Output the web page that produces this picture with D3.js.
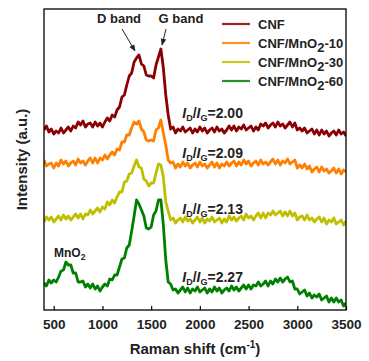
<!DOCTYPE html>
<html><head><meta charset="utf-8">
<script src="https://cdn.jsdelivr.net/npm/d3@7"></script>
<style>
html,body{margin:0;padding:0;background:#fff;}
svg{display:block;font-family:"Liberation Sans",Arial,sans-serif;font-weight:bold;}
</style></head>
<body>
<svg id="chart" width="369" height="361"></svg>
<script>
// Raman shift sample positions (cm-1)
const shifts = [400,425,450,475,500,525,550,575,600,625,650,675,700,725,750,775,800,825,850,875,900,925,950,975,1000,
1025,1050,1075,1100,1125,1150,1175,1200,1225,1250,1275,1300,1325,1350,1375,1400,1425,1450,1475,1500,1525,1550,1575,1600,1625,
1650,1675,1700,1725,1750,1775,1800,1825,1850,1875,1900,1925,1950,1975,2000,2025,2050,2075,2100,2125,2150,2175,2200,2225,2250,
2275,2300,2325,2350,2375,2400,2425,2450,2475,2500,2525,2550,2575,2600,2625,2650,2675,2700,2725,2750,2775,2800,2825,2850,2875,
2900,2925,2950,2975,3000,3025,3050,3075,3100,3125,3150,3175,3200,3225,3250,3275,3300,3325,3350,3375,3400,3425,3450,3475,3500];

// Intensities (a.u., with vertical offsets as plotted)
const cnf = [180,184,178,181,176,179,177,182,177,180,183,179,184,182,188,185,189,183,186,187,183,188,184,187,183,
188,192,189,195,193,200,203,213,215,225,234,237,248,252,255,246,244,235,234,234,232,245,253,261,242,
215,195,181,183,177,181,179,183,178,180,182,177,181,178,183,179,182,177,180,182,178,183,179,181,177,
180,184,180,184,179,183,181,185,180,182,184,179,183,180,186,184,187,182,185,187,183,188,184,186,182,
185,188,183,187,180,182,179,182,177,179,181,176,180,175,180,176,179,174,177,179,175,180,176,178,174];

const mno10 = [150,144,146,147,142,147,144,150,146,149,144,147,149,145,151,147,149,145,149,152,147,152,147,152,150,
155,151,155,158,155,161,160,168,168,175,175,182,188,186,189,181,178,170,169,170,169,180,182,190,177,
165,150,147,148,142,146,143,148,144,147,142,145,147,143,148,144,146,142,145,148,143,147,142,146,144,
148,144,147,149,144,148,145,150,146,149,144,147,149,145,150,146,148,145,148,151,146,150,145,149,147,
151,146,148,150,142,145,142,146,141,144,138,141,143,138,143,139,141,137,139,142,137,141,136,140,138];

const mno30 = [88,93,90,93,88,91,94,90,95,91,94,90,93,96,92,96,91,96,95,100,96,99,102,98,103,
101,108,105,110,107,113,118,118,128,129,136,137,144,150,143,142,131,129,124,127,127,137,146,145,133,
108,99,90,92,87,90,92,88,93,89,91,87,90,93,88,92,87,91,89,93,88,90,92,87,91,
88,94,90,93,89,92,94,90,96,92,94,90,94,97,92,97,92,97,95,99,95,97,99,94,98,
94,99,94,97,90,93,94,90,95,90,92,88,91,93,88,92,86,90,88,92,86,88,90,85,89];

const mno60 = [27,24,30,27,30,28,33,39,40,48,45,45,37,37,28,28,29,23,26,22,26,21,24,19,23,
26,24,31,30,35,35,43,51,52,62,65,79,94,110,106,100,94,82,81,83,95,99,110,110,85,
50,28,26,20,21,17,20,23,18,22,17,21,19,23,18,20,22,17,21,18,23,19,22,17,20,
22,19,24,20,23,19,22,25,21,25,21,25,24,28,24,26,29,24,29,26,31,28,32,28,31,
33,28,29,21,21,16,18,20,14,17,12,15,13,16,10,12,14,8,12,8,12,8,10,4,7];

const seriesNames = ["CNF","CNF/MnO2-10","CNF/MnO2-30","CNF/MnO2-60"];
const seriesColors = ["#8B0000","#FF8000","#BFBF00","#008000"];
const ratioLabels = ["2.00","2.09","2.13","2.27"];
const ratioAnchors = [[1820,192],[1820,152],[1820,96],[1820,28]];
const xTicks = [500,1000,1500,2000,2500,3000,3500];

const svg = d3.select("#chart");
const m = {l:44, r:23, t:9, b:51};
const W = 369, H = 361;
const x = d3.scaleLinear().domain([400,3500]).range([m.l, W-m.r]);
const y = d3.scaleLinear().domain([0,301]).range([H-m.b, m.t]);

const allSeries = [cnf, mno10, mno30, mno60];

const line = d3.line().x((d,i)=>x(shifts[i])).y(d=>y(d));

svg.append("clipPath").attr("id","clip").append("rect")
  .attr("x",m.l).attr("y",m.t).attr("width",W-m.r-m.l).attr("height",H-m.b-m.t);

svg.append("g").attr("clip-path","url(#clip)")
  .selectAll("path").data(allSeries).join("path")
  .attr("d",d=>line(d)).attr("fill","none")
  .attr("stroke",(d,i)=>seriesColors[i]).attr("stroke-width",2.8)
  .attr("stroke-linejoin","round");

// frame
svg.append("rect").attr("x",m.l).attr("y",m.t).attr("width",W-m.r-m.l).attr("height",H-m.b-m.t)
  .attr("fill","none").attr("stroke","#000").attr("stroke-width",1.3);

// x axis
const xAxis = d3.axisBottom(x).tickValues(xTicks).tickFormat(d3.format("d"))
  .tickSizeInner(-4).tickSizeOuter(0).tickPadding(9);
const gx = svg.append("g").attr("transform",`translate(0,${H-m.b})`).call(xAxis);
gx.select(".domain").remove();
gx.selectAll("line").attr("stroke","#000").attr("stroke-width",1.2);
gx.selectAll("text").attr("font-size",13.5).attr("font-weight","bold").attr("fill","#222")
  .attr("font-family","'Liberation Sans',Arial,sans-serif");

// axis titles
const xt = svg.append("text").attr("x",(m.l+W-m.r)/2).attr("y",354).attr("text-anchor","middle")
  .attr("font-size",15).attr("fill","#222");
xt.append("tspan").text("Raman shift (cm");
xt.append("tspan").attr("dy",-6).attr("font-size",10).text("-1");
xt.append("tspan").attr("dy",6).text(")");

svg.append("text").attr("transform",`translate(27,${(m.t+H-m.b)/2}) rotate(-90)`)
  .attr("text-anchor","middle").attr("font-size",15).attr("fill","#222").text("Intensity (a.u.)");

// legend
const lg = svg.append("g");
const ly0 = 24, ldy = 19;
seriesNames.forEach((n,i)=>{
  const yy = ly0 + i*ldy;
  lg.append("line").attr("x1",222).attr("x2",250).attr("y1",yy).attr("y2",yy)
    .attr("stroke",seriesColors[i]).attr("stroke-width",2.2).attr("opacity",0.85);
  const t = lg.append("text").attr("x",258).attr("y",yy+5).attr("font-size",13).attr("fill","#222");
  if (n.indexOf("MnO2")>=0){
    const parts = n.split("MnO2");
    t.append("tspan").text(parts[0]+"MnO");
    t.append("tspan").attr("dy",4).text("2");
    t.append("tspan").attr("dy",-4).text(parts[1]);
  } else t.text(n);
});

// ratio labels
ratioLabels.forEach((r,i)=>{
  const t = svg.append("text").attr("x",x(ratioAnchors[i][0])).attr("y",y(ratioAnchors[i][1]))
    .attr("font-size",14).attr("fill","#222");
  t.append("tspan").attr("font-style","italic").text("I");
  t.append("tspan").attr("dy",3).attr("font-size",9).text("D");
  t.append("tspan").attr("dy",-3).text("/");
  t.append("tspan").attr("font-style","italic").text("I");
  t.append("tspan").attr("dy",3).attr("font-size",9).text("G");
  t.append("tspan").attr("dy",-3).text("="+r);
});

// band annotations
svg.append("defs").append("marker").attr("id","arr").attr("viewBox","0 0 10 10")
  .attr("refX",9).attr("refY",5).attr("markerWidth",7).attr("markerHeight",7)
  .attr("orient","auto").append("path").attr("d","M0,1L10,5L0,9Z").attr("fill","#222");

svg.append("text").attr("x",119).attr("y",23).attr("text-anchor","middle").attr("font-size",13).attr("fill","#222").text("D band");
svg.append("text").attr("x",181).attr("y",23).attr("text-anchor","middle").attr("font-size",13).attr("fill","#222").text("G band");
svg.append("line").attr("x1",122).attr("y1",29).attr("x2",135).attr("y2",51)
  .attr("stroke","#222").attr("stroke-width",1).attr("marker-end","url(#arr)");
svg.append("line").attr("x1",166).attr("y1",29).attr("x2",162).attr("y2",45)
  .attr("stroke","#222").attr("stroke-width",1).attr("marker-end","url(#arr)");

// MnO2 label
const mt = svg.append("text").attr("x",54).attr("y",257).attr("font-size",12).attr("fill","#222");
mt.append("tspan").text("MnO");
mt.append("tspan").attr("dy",3).attr("font-size",8.5).text("2");
</script>
</body></html>
